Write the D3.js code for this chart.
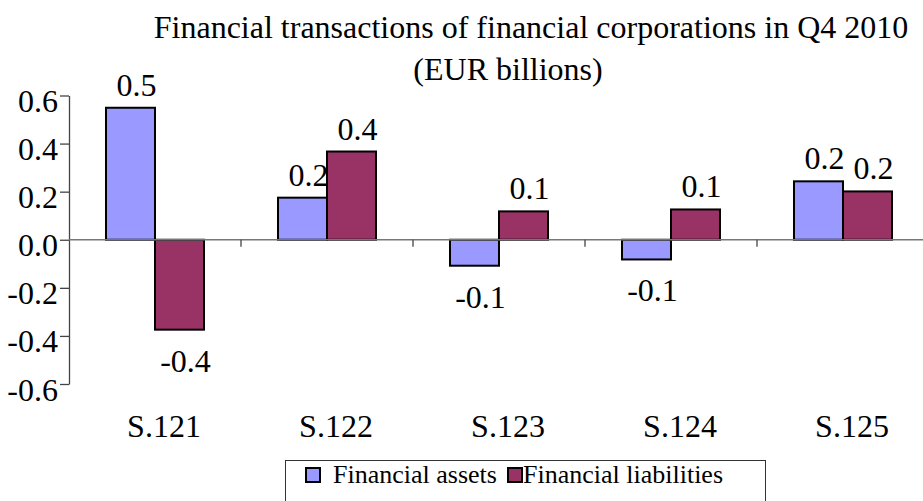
<!DOCTYPE html>
<html>
<head>
<meta charset="utf-8">
<script src="https://cdn.jsdelivr.net/npm/d3@7"></script>
<style>
  body { margin: 0; background: #fff; }
  svg text { font-family: "Liberation Serif", "Times New Roman", serif; fill: #000; }
</style>
</head>
<body>
<div id="chart"></div>
<script>
const categories = ["S.121", "S.122", "S.123", "S.124", "S.125"];
const seriesNames = ["Financial assets", "Financial liabilities"];
const assets = [0.549, 0.175, -0.108, -0.082, 0.243];
const liabilities = [-0.374, 0.367, 0.118, 0.126, 0.201];
const yTicks = [0.6, 0.4, 0.2, 0.0, -0.2, -0.4, -0.6];
const colors = ["#9999FF", "#993366"];

const width = 923, height = 501;
const serif = "'Liberation Serif', 'Times New Roman', serif";
// plain hyphen for negatives, like the original
const fmt = v => d3.format(".1f")(v).replace("\u2212", "-");

const svg = d3.select("#chart").append("svg").attr("width", width).attr("height", height)
  .attr("font-family", serif);

const y = d3.scaleLinear().domain([-0.6, 0.6]).range([384, 95.5]);
const x0 = d3.scaleBand().domain(categories).range([69, 929]).padding(0);
const x1 = d3.scaleBand().domain(seriesNames).range([0, x0.bandwidth()]).paddingInner(0).paddingOuter(0.755);

const rows = categories.map((c, i) => ({ cat: c, vals: [assets[i], liabilities[i]] }));

// title
svg.append("text").attr("x", 531).attr("y", 38).attr("text-anchor", "middle")
  .style("font-size", "32px").text("Financial transactions of financial corporations in Q4 2010");
svg.append("text").attr("x", 508).attr("y", 80).attr("text-anchor", "middle")
  .style("font-size", "32px").text("(EUR billions)");

// bars
const groups = svg.append("g").selectAll("g").data(rows).enter().append("g")
  .attr("transform", d => `translate(${x0(d.cat)},0)`);

groups.selectAll("rect").data(d => d.vals.map((v, k) => ({ key: seriesNames[k], v, k })))
  .enter().append("rect")
  .attr("x", d => x1(d.key))
  .attr("width", x1.bandwidth())
  .attr("y", d => y(Math.max(0, d.v)))
  .attr("height", d => Math.abs(y(d.v) - y(0)))
  .attr("fill", d => colors[d.k])
  .attr("stroke", "#000")
  .attr("stroke-width", 2);

groups.selectAll("text.val").data(d => d.vals.map((v, k) => ({ key: seriesNames[k], v })))
  .enter().append("text").attr("class", "val")
  .attr("x", d => x1(d.key) + x1.bandwidth() / 2 + 6)
  .attr("y", d => d.v >= 0 ? y(d.v) - 12 : y(d.v) + 42)
  .attr("text-anchor", "middle")
  .style("font-size", "32px")
  .text(d => fmt(d.v));

// y axis
const yAxis = svg.append("g").attr("transform", "translate(69,0)")
  .call(d3.axisLeft(y).tickValues(yTicks).tickFormat(fmt).tickSize(9).tickPadding(2).tickSizeOuter(0));
yAxis.attr("font-family", serif);
yAxis.select(".domain").attr("stroke", "#444").attr("stroke-width", 1.3);
yAxis.selectAll(".tick line").attr("stroke", "#444").attr("stroke-width", 1.3);
yAxis.selectAll(".tick text").attr("dy", 16).style("font-size", "32px")
  .style("font-family", serif).attr("fill", "#000");

// x axis line at zero with category boundary ticks
svg.append("line").attr("x1", 69).attr("x2", width).attr("y1", y(0)).attr("y2", y(0))
  .attr("stroke", "#777").attr("stroke-width", 1.5);
svg.append("g").selectAll("line").data(categories.slice(1)).enter().append("line")
  .attr("x1", d => x0(d)).attr("x2", d => x0(d))
  .attr("y1", y(0)).attr("y2", y(0) + 7)
  .attr("stroke", "#444").attr("stroke-width", 1.3);

// category labels
svg.append("g").selectAll("text").data(categories).enter().append("text")
  .attr("x", d => x0(d) + x0.bandwidth() / 2 + 9)
  .attr("y", 437)
  .attr("text-anchor", "middle")
  .style("font-size", "32px")
  .text(d => d);

// legend
const legend = svg.append("g");
legend.append("rect").attr("x", 285.5).attr("y", 460.5).attr("width", 480).attr("height", 60)
  .attr("fill", "#fff").attr("stroke", "#333").attr("stroke-width", 1);
const legendX = [306, 508];
const item = legend.selectAll("g").data(seriesNames).enter().append("g")
  .attr("transform", (d, i) => `translate(${legendX[i]},0)`);
item.append("rect").attr("x", 0).attr("y", 468).attr("width", 14).attr("height", 14)
  .attr("fill", (d, i) => colors[i]).attr("stroke", "#000").attr("stroke-width", 2);
item.append("text").attr("x", (d, i) => i === 0 ? 27 : 15).attr("y", 483)
  .style("font-size", "26px").text(d => d);
</script>
</body>
</html>
